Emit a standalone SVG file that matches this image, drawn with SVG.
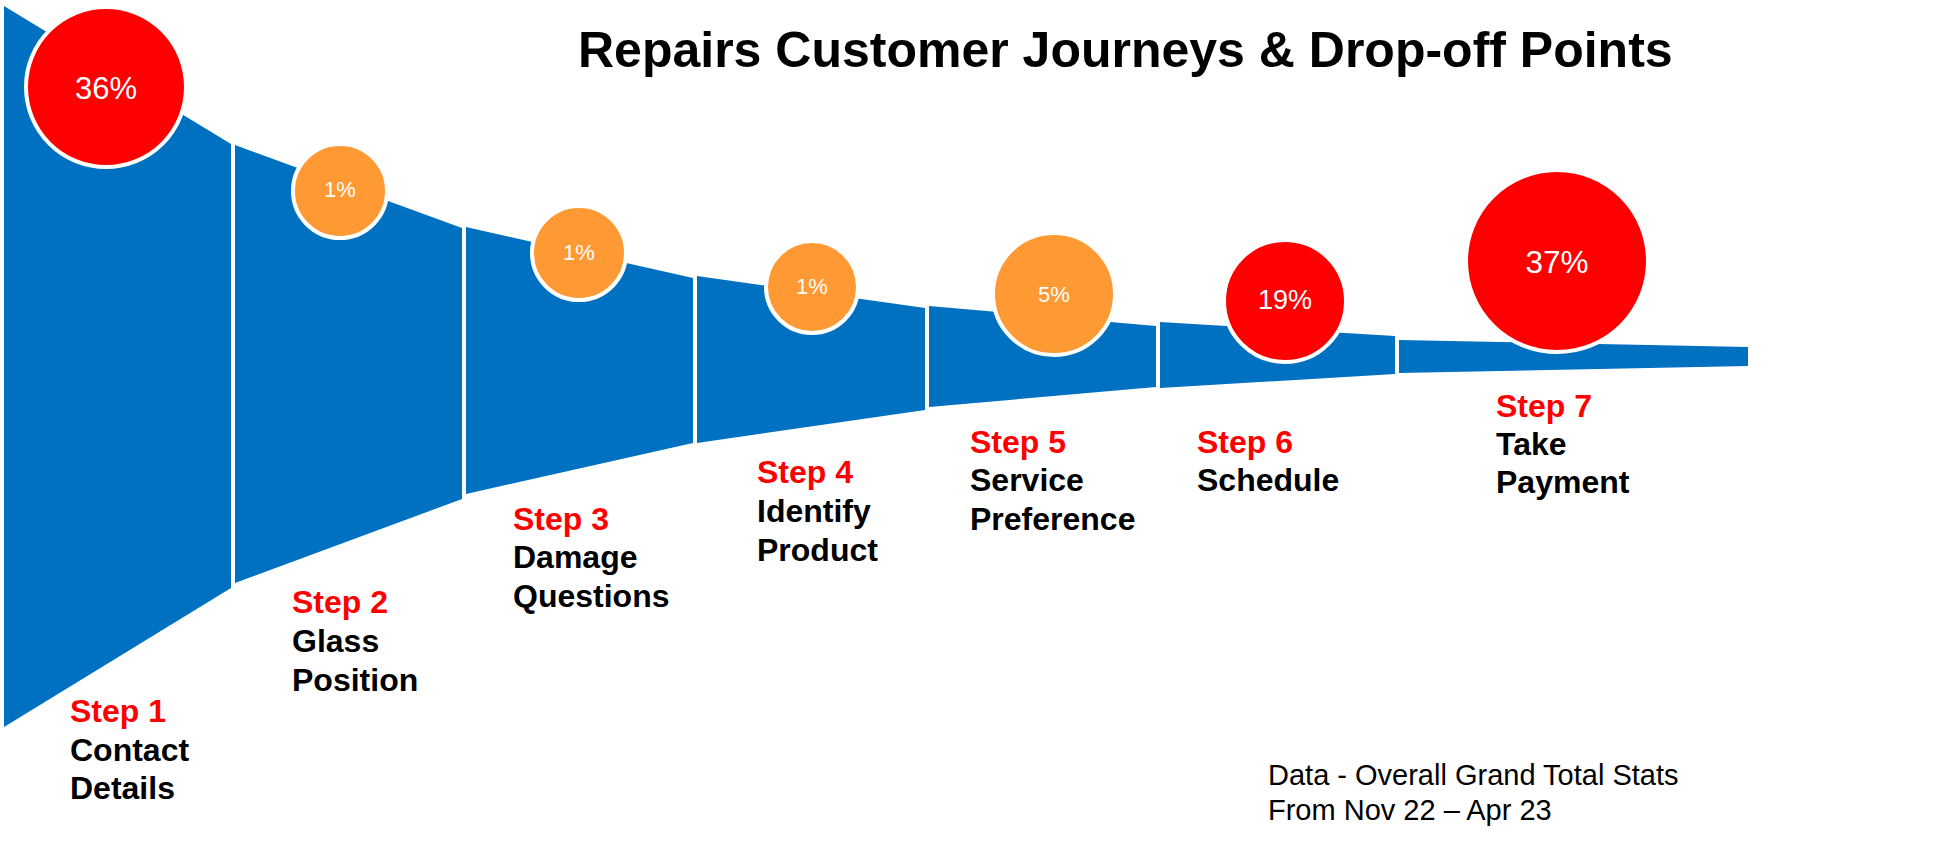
<svg xmlns="http://www.w3.org/2000/svg" width="1941" height="845" viewBox="0 0 1941 845">
<style>
.seg{fill:#0070C0}
.red{fill:#FF0000;stroke:#FFFFFF;stroke-width:4}
.org{fill:#FF9933;stroke:#FFFFFF;stroke-width:4}
.pct{font-family:"Liberation Sans",Arial,sans-serif;fill:#FFFFFF;text-anchor:middle}
.step{font-family:"Liberation Sans",Arial,sans-serif;font-weight:bold;font-size:32px}
.st{fill:#FF0000}
.nm{fill:#000000}
.title{font-family:"Liberation Sans",Arial,sans-serif;font-weight:bold;font-size:50px;fill:#000}
.note{font-family:"Liberation Sans",Arial,sans-serif;font-size:29px;fill:#000}
</style>
<rect width="1941" height="845" fill="#FFFFFF"/>
<text class="title" x="578" y="67">Repairs Customer Journeys &amp; Drop-off Points</text>

<g id="step1">
<polygon class="seg" points="4,6 231,144 231,588 4,727"/>
<circle class="red" cx="106" cy="87" r="80"/>
<text class="pct" x="106" y="99" font-size="31">36%</text>
<text class="step" x="70"><tspan class="st" x="70" y="722">Step 1</tspan><tspan class="nm" x="70" y="761">Contact</tspan><tspan class="nm" x="70" y="799">Details</tspan></text>
</g>

<g id="step2">
<polygon class="seg" points="235,145 462,228 462,499 235,583"/>
<circle class="org" cx="340" cy="191" r="47"/>
<text class="pct" x="340" y="197" font-size="22">1%</text>
<text class="step"><tspan class="st" x="292" y="613">Step 2</tspan><tspan class="nm" x="292" y="652">Glass</tspan><tspan class="nm" x="292" y="691">Position</tspan></text>
</g>

<g id="step3">
<polygon class="seg" points="466,227 693,278 693,443 466,494"/>
<circle class="org" cx="579" cy="253" r="47"/>
<text class="pct" x="579" y="260" font-size="22">1%</text>
<text class="step"><tspan class="st" x="513" y="530">Step 3</tspan><tspan class="nm" x="513" y="568">Damage</tspan><tspan class="nm" x="513" y="607">Questions</tspan></text>
</g>

<g id="step4">
<polygon class="seg" points="697,276 925,308 925,410 697,443"/>
<circle class="org" cx="812" cy="287" r="46"/>
<text class="pct" x="812" y="294" font-size="22">1%</text>
<text class="step"><tspan class="st" x="757" y="483">Step 4</tspan><tspan class="nm" x="757" y="522">Identify</tspan><tspan class="nm" x="757" y="561">Product</tspan></text>
</g>

<g id="step5">
<polygon class="seg" points="929,306 1156,326 1156,387 929,407"/>
<circle class="org" cx="1054" cy="294" r="61"/>
<text class="pct" x="1054" y="302" font-size="22">5%</text>
<text class="step"><tspan class="st" x="970" y="453">Step 5</tspan><tspan class="nm" x="970" y="491">Service</tspan><tspan class="nm" x="970" y="530">Preference</tspan></text>
</g>

<g id="step6">
<polygon class="seg" points="1160,322 1395,336 1395,374 1160,388"/>
<circle class="red" cx="1285" cy="301" r="61"/>
<text class="pct" x="1285" y="309" font-size="27">19%</text>
<text class="step"><tspan class="st" x="1197" y="453">Step 6</tspan><tspan class="nm" x="1197" y="491">Schedule</tspan></text>
</g>

<g id="step7">
<polygon class="seg" points="1399,340 1748,347 1748,366 1399,373"/>
<circle class="red" cx="1557" cy="261" r="91"/>
<text class="pct" x="1557" y="273" font-size="31.5">37%</text>
<text class="step"><tspan class="st" x="1496" y="417">Step 7</tspan><tspan class="nm" x="1496" y="455">Take</tspan><tspan class="nm" x="1496" y="493">Payment</tspan></text>
</g>

<g id="note">
<text class="note"><tspan x="1268" y="785">Data - Overall Grand Total Stats</tspan><tspan x="1268" y="820">From Nov 22 – Apr 23</tspan></text>
</g>
</svg>
